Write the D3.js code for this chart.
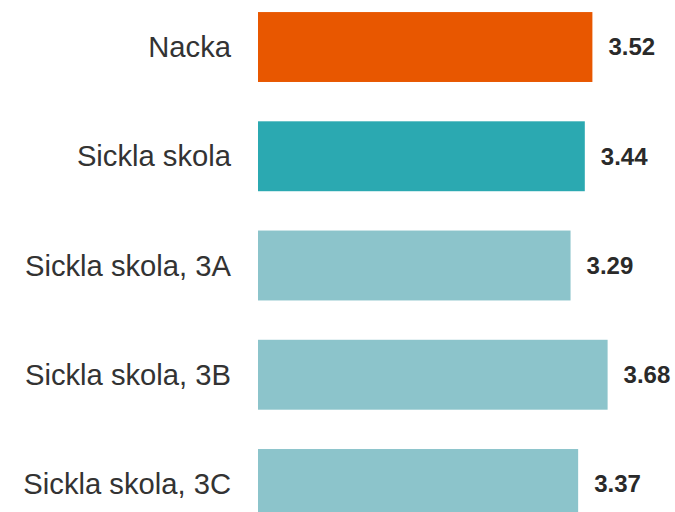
<!DOCTYPE html>
<html>
<head>
<meta charset="utf-8">
<script src="https://cdn.jsdelivr.net/npm/d3@7"></script>
<style>
  body { margin: 0; background: #fff; }
  svg { display: block; font-family: "Liberation Sans", Arial, sans-serif; }
</style>
</head>
<body>
<div id="chart"></div>
<script>
const categories = ['Nacka', 'Sickla skola', 'Sickla skola, 3A', 'Sickla skola, 3B', 'Sickla skola, 3C'];
const values = [3.52, 3.44, 3.29, 3.68, 3.37];
const barColors = ['#e85700', '#2ba9b1', '#8cc4cb', '#8cc4cb', '#8cc4cb'];

const width = 675;
const height = 512;

const svg = d3.select('#chart')
  .append('svg')
  .attr('width', width)
  .attr('height', height);

const x = d3.scaleLinear()
  .domain([0, 4])
  .range([258, 638]);

const y = d3.scaleBand()
  .domain(categories)
  .range([-7.6, 538.6])
  .paddingInner(0.36)
  .paddingOuter(0.18);

const rows = svg.selectAll('.row')
  .data(categories)
  .enter()
  .append('g')
  .attr('class', 'row');

rows.append('rect')
  .attr('x', x(0))
  .attr('y', d => y(d))
  .attr('width', (d, i) => x(values[i]) - x(0))
  .attr('height', y.bandwidth())
  .attr('fill', (d, i) => barColors[i]);

// category labels
rows.append('text')
  .text(d => d)
  .attr('x', x(0) - 27)
  .attr('y', d => y(d) + y.bandwidth() / 2)
  .attr('dy', '0.35em')
  .attr('text-anchor', 'end')
  .attr('font-size', '29.2px')
  .attr('fill', '#333');

// value labels
rows.append('text')
  .text((d, i) => values[i].toFixed(2))
  .attr('x', (d, i) => x(values[i]) + 16)
  .attr('y', d => y(d) + y.bandwidth() / 2)
  .attr('dy', '0.35em')
  .attr('font-size', '24px')
  .attr('font-weight', 'bold')
  .attr('fill', '#2a2a2a');
</script>
</body>
</html>
